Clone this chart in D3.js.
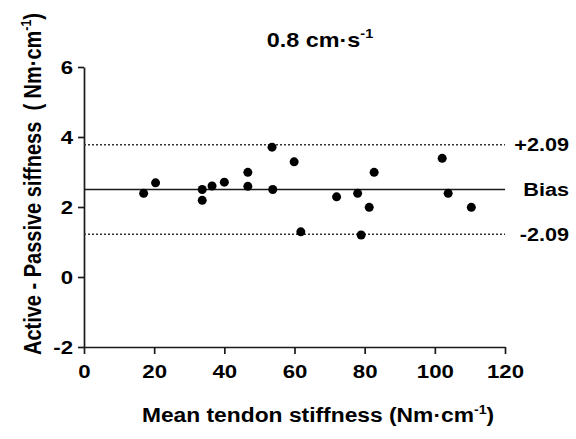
<!DOCTYPE html>
<html>
<head>
<meta charset="utf-8">
<script src="https://cdn.jsdelivr.net/npm/d3@7"></script>
<style>
  html, body { margin: 0; padding: 0; background: #fff; }
  svg { display: block; }
  text { font-family: "Liberation Sans", Arial, sans-serif; font-weight: bold; fill: #000; }
</style>
</head>
<body>
<svg id="chart" width="576" height="439"></svg>
<script>
// ---- data ----
const meanStiffness = [17.0, 20.4, 33.7, 33.7, 36.5, 40.0, 46.7, 46.7, 53.6, 53.8, 59.9, 61.8, 72.0, 78.0, 79.0, 81.3, 82.7, 102.1, 103.8, 110.4];
const difference    = [2.39, 2.69, 2.50, 2.19, 2.60, 2.71, 2.59, 2.99, 3.71, 2.50, 3.29, 1.29, 2.29, 2.39, 1.20, 1.99, 2.99, 3.39, 2.39, 1.99];
const xTicks = [0, 20, 40, 60, 80, 100, 120];
const yTicks = [-2, 0, 2, 4, 6];
const biasValue = 2.5;
const upperLimit = 3.78;
const lowerLimit = 1.22;
const refLabels = ["+2.09", "Bias", "-2.09"];
const titleMain = "0.8 cm·s";
const xLabelMain = "Mean tendon stiffness (Nm·cm";
const yLabelMain = "Active - Passive siffness\u00a0\u00a0( Nm·cm";
const supText = "-1";

// ---- layout ----
const SX = 1.17; // horizontal text stretch
const svg = d3.select("#chart");
const x = d3.scaleLinear().domain([0, 120]).range([84, 505]);
const y = d3.scaleLinear().domain([-2, 6]).range([347, 67]);
const ink = "#1a1a1a";
const fmt = d => String(d);

// axes
const gx = svg.append("g").attr("transform", `translate(0,${y(-2)})`)
  .call(d3.axisBottom(x).tickValues(xTicks).tickSize(7).tickSizeOuter(0).tickFormat(fmt));
gx.selectAll("text").attr("y", 18).attr("font-size", 19).attr("transform", `scale(${SX},1)`);
const gy = svg.append("g").attr("transform", `translate(${x(0)},0)`)
  .call(d3.axisLeft(y).tickValues(yTicks).tickSize(6).tickSizeOuter(0).tickFormat(fmt));
gy.selectAll("text").attr("x", -11 / SX).attr("font-size", 19).attr("transform", `scale(${SX},1)`);
svg.selectAll(".domain, .tick line").attr("stroke", ink).attr("stroke-width", 1.7);
svg.selectAll(".tick text").attr("fill", "#000").style("font-family", '"Liberation Sans", Arial, sans-serif').style("font-weight", "bold");

// reference lines
const refVals = [upperLimit, biasValue, lowerLimit];
svg.selectAll("line.ref").data(refVals).enter().append("line")
  .attr("class", "ref")
  .attr("x1", x(0)).attr("x2", x(120))
  .attr("y1", d => y(d)).attr("y2", d => y(d))
  .attr("stroke", (d, i) => i === 1 ? ink : "#333")
  .attr("stroke-width", (d, i) => i === 1 ? 1.7 : 1.5)
  .attr("stroke-dasharray", (d, i) => i === 1 ? null : "2,2");

// points
svg.selectAll("circle.pt").data(meanStiffness).enter().append("circle")
  .attr("class", "pt")
  .attr("cx", d => x(d))
  .attr("cy", (d, i) => y(difference[i]))
  .attr("r", 4.5)
  .attr("fill", "#000");

// ref labels
refVals.forEach((v, i) => {
  svg.append("g").attr("transform", `translate(569,${y(v) + 6.6}) scale(${SX},1)`)
    .append("text").attr("text-anchor", "end").attr("font-size", 18.5).text(refLabels[i]);
});

// text helper with superscript
function supLabel(tx, ty, rot, size, main) {
  const t = svg.append("g").attr("transform", `translate(${tx},${ty}) scale(${SX},1) rotate(${rot})`)
    .append("text").attr("text-anchor", "middle").attr("font-size", size);
  t.append("tspan").text(main);
  t.append("tspan").attr("font-size", size * 0.62).attr("dy", -size * 0.42).text(supText);
  return t;
}
// title
supLabel(320, 46.5, 0, 20, titleMain);
// x label
const xl = supLabel(318, 422, 0, 19.5, xLabelMain);
xl.append("tspan").attr("dy", 19.5 * 0.42).text(")");
// y label
const yl = svg.append("g").attr("transform", `translate(41,184) scale(${SX},1) rotate(-90)`)
  .append("text").attr("text-anchor", "middle").attr("font-size", 20);
yl.append("tspan").text(yLabelMain);
yl.append("tspan").attr("font-size", 20 * 0.62).attr("dy", -20 * 0.42).text(supText);
yl.append("tspan").attr("dy", 20 * 0.42).text(")");
</script>
</body>
</html>
